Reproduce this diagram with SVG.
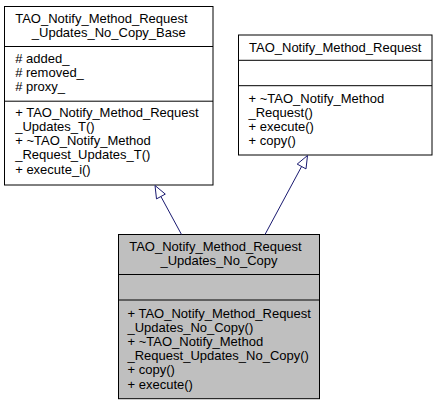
<svg xmlns="http://www.w3.org/2000/svg" width="441" height="405" viewBox="0 0 441 405">
<style>
.box{stroke:#000;stroke-width:1;fill:#fff}
.cur{fill:#bfbfbf}
.div{stroke:#000;stroke-width:1;fill:none}
text{font-family:"Liberation Sans",Arial,Helvetica,sans-serif;font-size:13px;fill:#000}
.m{text-anchor:middle}
.edge{stroke:#191970;stroke-width:1;fill:none}
.head{stroke:#191970;stroke-width:1;fill:#fff}
</style>
<rect width="441" height="405" fill="#fff"/>
<g id="node-base">
<rect class="box" x="4.5" y="6.5" width="208.5" height="178.5"/>
<line class="div" x1="4.5" y1="46.5" x2="213" y2="46.5"/>
<line class="div" x1="4.5" y1="101.2" x2="213" y2="101.2"/>
<text x="15.2" y="22.5">TAO_Notify_Method_Request</text>
<text class="m" x="108.75" y="36.5">_Updates_No_Copy_Base</text>
<text x="15.2" y="62.5"># added_</text>
<text x="15.2" y="76.5"># removed_</text>
<text x="15.2" y="90.5"># proxy_</text>
<text x="15.2" y="116.5">+ TAO_Notify_Method_Request</text>
<text x="15.2" y="130.8">_Updates_T()</text>
<text x="15.2" y="145">+ ~TAO_Notify_Method</text>
<text x="15.2" y="159.3">_Request_Updates_T()</text>
<text x="15.2" y="173.5">+ execute_i()</text>
</g>
<g id="node-request">
<rect class="box" x="238.5" y="35" width="193.5" height="120"/>
<line class="div" x1="238.5" y1="60.3" x2="432" y2="60.3"/>
<line class="div" x1="238.5" y1="85.7" x2="432" y2="85.7"/>
<text class="m" x="335.25" y="51.5">TAO_Notify_Method_Request</text>
<text x="248.5" y="102.5">+ ~TAO_Notify_Method</text>
<text x="248.5" y="116.5">_Request()</text>
<text x="248.5" y="130.5">+ execute()</text>
<text x="248.5" y="144.5">+ copy()</text>
</g>
<g id="node-nocopy">
<rect class="box cur" x="118.5" y="234.5" width="201" height="164.2"/>
<line class="div" x1="118.5" y1="274.5" x2="319.5" y2="274.5"/>
<line class="div" x1="118.5" y1="300" x2="319.5" y2="300"/>
<text x="129.2" y="251">TAO_Notify_Method_Request</text>
<text class="m" x="219" y="264.5">_Updates_No_Copy</text>
<text x="127.5" y="317.5">+ TAO_Notify_Method_Request</text>
<text x="127.5" y="331.7">_Updates_No_Copy()</text>
<text x="127.5" y="345.9">+ ~TAO_Notify_Method</text>
<text x="127.5" y="360.1">_Request_Updates_No_Copy()</text>
<text x="127.5" y="374.3">+ copy()</text>
<text x="127.5" y="388.5">+ execute()</text>
</g>
<g id="connectors">
<path class="edge" d="M181.5,234.5 L160.9,196.5"/>
<polygon class="head" points="155,185.5 156.5,198.9 165.3,194.1"/>
<path class="edge" d="M265,234.5 L301.6,166.5"/>
<polygon class="head" points="307.5,155.5 297.2,164.1 306,168.9"/>
</g>
</svg>
